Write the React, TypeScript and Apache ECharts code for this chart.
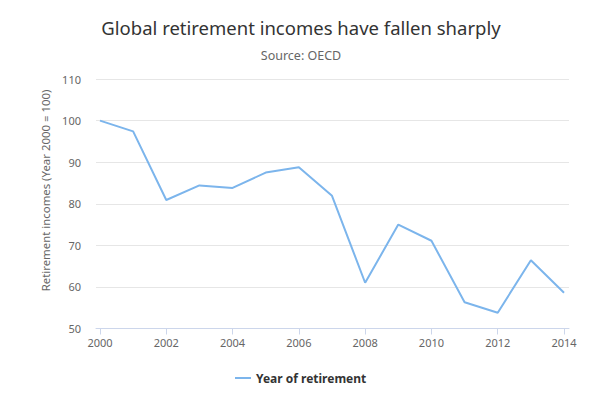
import React, { useEffect, useRef } from "react";
import * as echarts from "echarts";

const years = [2000, 2001, 2002, 2003, 2004, 2005, 2006, 2007, 2008, 2009, 2010, 2011, 2012, 2013, 2014];
const incomes = [100, 97.4, 80.9, 84.4, 83.8, 87.5, 88.8, 81.9, 61, 75, 71.1, 56.3, 53.8, 66.4, 58.6];
const xTickValues = [2000, 2002, 2004, 2006, 2008, 2010, 2012, 2014];
const seriesName = "Year of retirement";
const titleText = "Global retirement incomes have fallen sharply";
const subtitleText = "Source: OECD";
const yAxisTitle = "Retirement incomes (Year 2000 = 100)";

const FONT = "'Noto Sans', 'DejaVu Sans', sans-serif";

export default function App() {
  const ref = useRef<HTMLDivElement>(null);
  useEffect(() => {
    if (!ref.current) return;
    const chart = echarts.init(ref.current, undefined, { renderer: "svg" });
    chart.setOption({
      animation: false,
      backgroundColor: "#ffffff",
      textStyle: { fontFamily: FONT },
      title: {
        text: titleText,
        subtext: subtitleText,
        left: 296,
        textAlign: "center",
        top: 13,
        itemGap: 12,
        textStyle: { fontFamily: FONT, fontSize: 18.5, fontWeight: "normal", color: "#333333" },
        subtextStyle: { fontFamily: FONT, fontSize: 12.5, color: "#666666" },
      },
      legend: {
        bottom: 7,
        left: 230,
        icon: "rect",
        itemWidth: 16,
        itemHeight: 2,
        itemGap: 6,
        textStyle: { fontFamily: FONT, fontSize: 12, fontWeight: "bold", color: "#333333" },
        data: [seriesName],
      },
      grid: { left: 96, right: 22, top: 79, bottom: 67.5, containLabel: false },
      xAxis: {
        type: "value",
        min: 1999.88,
        max: 2014.15,
        axisLine: { show: true, lineStyle: { color: "#ccd6eb" } },
        axisTick: { show: true, length: 6, lineStyle: { color: "#ccd6eb" }, customValues: xTickValues },
        axisLabel: {
          customValues: xTickValues,
          color: "#666666",
          fontSize: 11,
          fontFamily: FONT,
          margin: 8,
          formatter: (v: number) => String(Math.round(v)),
        },
        splitLine: { show: false },
      },
      yAxis: {
        type: "value",
        min: 50,
        max: 110,
        interval: 10,
        axisLine: { show: false },
        axisTick: { show: false },
        axisLabel: { color: "#666666", fontSize: 11, fontFamily: FONT, margin: 15 },
        splitLine: { show: true, lineStyle: { color: "#e6e6e6", width: 1 } },
      },
      graphic: [
        {
          type: "text",
          x: 45,
          y: 190.5,
          rotation: Math.PI / 2,
          style: {
            text: yAxisTitle,
            fill: "#666666",
            fontSize: 11.4,
            fontFamily: FONT,
            align: "center",
            verticalAlign: "middle",
          },
        },
      ],
      series: [
        {
          name: seriesName,
          type: "line",
          data: years.map((y, i) => [y, incomes[i]]),
          symbol: "none",
          lineStyle: { color: "#7cb5ec", width: 2 },
          itemStyle: { color: "#7cb5ec" },
        },
      ],
    });
    return () => chart.dispose();
  }, []);
  return <div ref={ref} style={{ width: 591, height: 396, margin: -8 }} />;
}
